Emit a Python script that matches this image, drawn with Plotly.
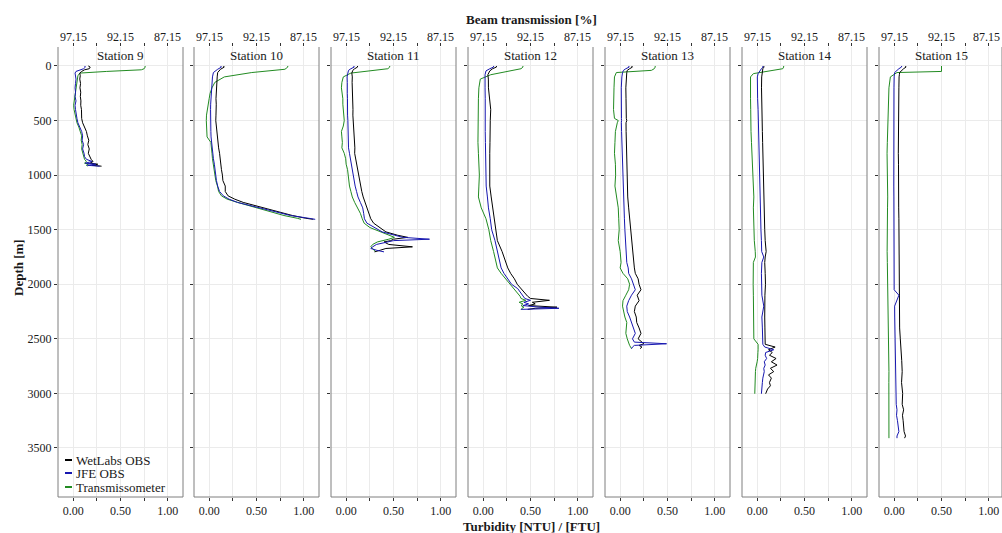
import plotly.graph_objects as go

# ---------------- data ----------------
STATIONS = ["Station 9", "Station 10", "Station 11", "Station 12",
            "Station 13", "Station 14", "Station 15"]

# Station 9
depth_s9 = [0, 10, 25, 35, 50, 65, 90, 120, 160, 200, 240, 280, 320, 360, 400, 440,
            480, 520, 560, 600, 640, 680, 720, 760, 800, 830, 855, 875, 890, 900, 910, 918]
wetlabs_s9 = [0.16, 0.18, 0.17, 0.12, 0.09, 0.07, 0.075, 0.07, 0.078, 0.072, 0.08, 0.076,
              0.082, 0.08, 0.088, 0.085, 0.09, 0.1, 0.12, 0.14, 0.15, 0.165, 0.155, 0.17,
              0.16, 0.175, 0.19, 0.21, 0.18, 0.26, 0.2, 0.3]
jfe_s9 = [0.12, 0.13, 0.11, 0.07, 0.03, 0.02, 0.025, 0.03, 0.025, 0.02, 0.025, 0.02, 0.03,
          0.02, 0.025, 0.03, 0.04, 0.05, 0.07, 0.09, 0.1, 0.095, 0.11, 0.1, 0.115, 0.12,
          0.14, 0.2, 0.13, 0.24, 0.15, 0.28]
trans_s9 = [89.55, 89.55, 89.65, 89.95, 93.65, 96.45, 96.65, 96.70, 96.80, 96.85, 96.95,
            97.00, 97.05, 97.10, 97.05, 96.95, 96.85, 96.75, 96.55, 96.40, 96.25, 96.30,
            96.20, 96.25, 96.15, 96.05, 95.95, 95.75, 95.95, 95.55, 95.75, 95.65]

# Station 10
depth_s10 = [0, 10, 30, 60, 100, 150, 200, 250, 300, 350, 400, 450, 500, 550, 600, 650,
             700, 750, 800, 850, 900, 950, 1000, 1050, 1100, 1150, 1190, 1220, 1250, 1280,
             1310, 1340, 1370, 1395, 1405]
wetlabs_s10 = [0.15, 0.16, 0.12, 0.09, 0.085, 0.08, 0.078, 0.075, 0.072, 0.075, 0.07, 0.072,
               0.07, 0.075, 0.08, 0.085, 0.09, 0.1, 0.11, 0.115, 0.12, 0.13, 0.14, 0.145,
               0.17, 0.17, 0.2, 0.27, 0.36, 0.48, 0.62, 0.75, 0.88, 1.02, 1.1]
jfe_s10 = [0.12, 0.13, 0.09, 0.045, 0.035, 0.03, 0.025, 0.02, 0.018, 0.016, 0.015, 0.014,
           0.015, 0.016, 0.018, 0.02, 0.025, 0.03, 0.04, 0.045, 0.055, 0.06, 0.07, 0.077,
           0.09, 0.11, 0.15, 0.21, 0.3, 0.44, 0.59, 0.73, 0.86, 1.05, 1.12]
trans_s10 = [88.85, 88.85, 89.15, 92.65, 95.55, 96.55, 96.85, 97.05, 97.15, 97.25, 97.35,
             97.43, 97.45, 97.43, 97.40, 97.37, 96.97, 96.95, 96.85, 96.80, 96.70, 96.65,
             96.55, 96.45, 96.27, 96.15, 95.85, 95.25, 94.15, 92.85, 91.65, 90.45, 89.25,
             87.85, 87.45]

# Station 11
depth_s11 = [0, 10, 25, 40, 65, 100, 150, 200, 250, 300, 350, 400, 450, 500, 550, 600, 650,
             700, 750, 800, 850, 900, 950, 1000, 1050, 1100, 1150, 1200, 1250, 1300, 1350,
             1400, 1440, 1480, 1520, 1550, 1570, 1587, 1600, 1612, 1635, 1657, 1672, 1688, 1703]
wetlabs_s11 = [0.12, 0.12, 0.09, 0.07, 0.06, 0.065, 0.063, 0.066, 0.068, 0.066, 0.07, 0.072,
               0.071, 0.075, 0.078, 0.08, 0.083, 0.088, 0.092, 0.09, 0.1, 0.116, 0.12, 0.13,
               0.14, 0.15, 0.165, 0.18, 0.2, 0.225, 0.24, 0.26, 0.29, 0.35, 0.42, 0.54, 0.65,
               0.5, 0.47, 0.40, 0.45, 0.70, 0.42, 0.36, 0.3]
jfe_s11 = [0.08, 0.085, 0.05, 0.025, 0.018, 0.01, 0.012, 0.01, 0.012, 0.014, 0.012, 0.016,
           0.015, 0.018, 0.02, 0.022, 0.02, 0.024, 0.025, 0.035, 0.045, 0.053, 0.06, 0.07,
           0.08, 0.095, 0.11, 0.125, 0.15, 0.175, 0.185, 0.193, 0.22, 0.3, 0.38, 0.51, 0.6,
           0.88, 0.5, 0.44, 0.32, 0.28, 0.26, 0.32, 0.4]
trans_s11 = [92.55, 92.55, 92.75, 94.15, 96.65, 97.45, 97.60, 97.65, 97.55, 97.50, 97.50,
             97.45, 97.40, 97.35, 97.45, 97.65, 97.60, 97.55, 97.60, 97.35, 97.20, 97.15,
             97.00, 96.95, 96.87, 96.80, 96.65, 96.50, 96.25, 95.95, 95.65, 95.45, 95.25,
             94.65, 93.55, 92.65, 92.05, 92.65, 93.35, 93.85, 94.35, 94.55, 94.35, 94.15, 94.05]

# Station 12
depth_s12 = [0, 10, 25, 45, 80, 120, 200, 300, 400, 500, 600, 700, 800, 900, 1000, 1100,
             1200, 1300, 1400, 1500, 1600, 1700, 1800, 1850, 1900, 1950, 2000, 2040, 2080,
             2110, 2130, 2147, 2165, 2180, 2195, 2210, 2220, 2230]
wetlabs_s12 = [0.14, 0.14, 0.1, 0.07, 0.05, 0.055, 0.056, 0.065, 0.08, 0.075, 0.07, 0.072,
               0.07, 0.068, 0.067, 0.07, 0.085, 0.1, 0.115, 0.13, 0.15, 0.2, 0.24, 0.26, 0.29,
               0.33, 0.36, 0.4, 0.43, 0.47, 0.5, 0.7, 0.52, 0.55, 0.48, 0.78, 0.55, 0.47]
jfe_s12 = [0.11, 0.11, 0.07, 0.03, 0.02, 0.022, 0.02, 0.022, 0.02, 0.021, 0.022, 0.024,
           0.025, 0.026, 0.028, 0.032, 0.045, 0.056, 0.075, 0.09, 0.125, 0.15, 0.175, 0.19,
           0.22, 0.26, 0.3, 0.365, 0.4, 0.42, 0.44, 0.5, 0.43, 0.48, 0.42, 0.6, 0.8, 0.4]
trans_s12 = [92.95, 92.95, 93.15, 94.35, 96.35, 97.45, 97.60, 97.65, 97.67, 97.70, 97.71,
             97.70, 97.65, 97.60, 97.55, 97.60, 97.65, 97.35, 96.85, 96.55, 96.35, 96.05,
             95.75, 95.65, 95.25, 94.75, 94.25, 93.85, 93.45, 93.25, 93.15, 92.65, 93.35,
             92.95, 93.15, 92.85, 93.05, 93.15]

# Station 13
depth_s13 = [0, 10, 25, 40, 60, 100, 200, 300, 400, 480, 500, 520, 600, 700, 800, 900, 1000,
             1100, 1200, 1300, 1400, 1500, 1600, 1700, 1800, 1850, 1900, 1950, 2000, 2050,
             2100, 2150, 2200, 2250, 2300, 2350, 2400, 2450, 2500, 2530, 2545, 2560, 2575, 2590]
wetlabs_s13 = [0.12, 0.13, 0.1, 0.075, 0.07, 0.065, 0.06, 0.062, 0.06, 0.065, 0.07, 0.062,
               0.063, 0.065, 0.07, 0.068, 0.072, 0.078, 0.08, 0.09, 0.1, 0.11, 0.118, 0.13,
               0.14, 0.15, 0.16, 0.19, 0.2, 0.22, 0.18, 0.2, 0.16, 0.15, 0.17, 0.175, 0.2,
               0.22, 0.19, 0.23, 0.25, 0.2, 0.23, 0.21]
jfe_s13 = [0.09, 0.095, 0.06, 0.035, 0.025, 0.018, 0.012, 0.01, 0.012, 0.014, 0.015, 0.013,
           0.015, 0.018, 0.02, 0.022, 0.025, 0.03, 0.035, 0.04, 0.045, 0.05, 0.055, 0.06,
           0.07, 0.085, 0.09, 0.12, 0.14, 0.16, 0.12, 0.09, 0.07, 0.075, 0.1, 0.12, 0.14,
           0.16, 0.13, 0.15, 0.49, 0.15, 0.13, 0.12]
trans_s13 = [93.45, 93.45, 93.55, 93.85, 97.55, 97.75, 97.80, 97.85, 97.85, 97.75, 97.35,
             97.45, 97.65, 97.70, 97.75, 97.65, 97.63, 97.70, 97.55, 97.35, 97.30, 97.25,
             97.35, 97.15, 97.05, 97.15, 96.85, 96.35, 96.15, 96.25, 96.55, 96.85, 96.90,
             96.80, 96.65, 96.45, 96.50, 96.55, 96.40, 96.30, 96.25, 96.15, 96.05, 95.95]

# Station 14
depth_s14 = [0, 10, 25, 45, 70, 100, 200, 300, 400, 500, 600, 700, 800, 900, 1000, 1100,
             1200, 1300, 1400, 1500, 1600, 1700, 1750, 1800, 1900, 2000, 2100, 2200, 2300,
             2400, 2500, 2550, 2575, 2600, 2625, 2650, 2680, 2710, 2740, 2770, 2800, 2830,
             2860, 2900, 2930, 2960, 3003]
wetlabs_s14 = [0.07, 0.072, 0.06, 0.055, 0.05, 0.048, 0.046, 0.05, 0.052, 0.053, 0.055,
               0.058, 0.06, 0.062, 0.065, 0.07, 0.068, 0.072, 0.078, 0.08, 0.085, 0.095,
               0.085, 0.08, 0.085, 0.088, 0.082, 0.085, 0.08, 0.082, 0.08, 0.085, 0.19, 0.12,
               0.16, 0.13, 0.2, 0.15, 0.21, 0.14, 0.175, 0.12, 0.15, 0.13, 0.14, 0.11, 0.09]
jfe_s14 = [0.06, 0.062, 0.045, 0.03, 0.01, 0.002, 0.0, 0.005, 0.01, 0.012, 0.015, 0.018,
           0.02, 0.022, 0.025, 0.028, 0.03, 0.032, 0.035, 0.04, 0.045, 0.048, 0.07, 0.05,
           0.045, 0.048, 0.05, 0.07, 0.05, 0.055, 0.055, 0.06, 0.08, 0.175, 0.09, 0.085, 0.1,
           0.075, 0.085, 0.07, 0.075, 0.065, 0.06, 0.055, 0.05, 0.05, 0.045]
trans_s14 = [94.35, 94.35, 94.45, 95.65, 97.55, 97.85, 97.87, 97.85, 97.83, 97.85, 97.80,
             97.75, 97.70, 97.65, 97.60, 97.55, 97.50, 97.55, 97.53, 97.50, 97.45, 97.35,
             97.33, 97.55, 97.60, 97.57, 97.55, 97.53, 97.55, 97.53, 97.50, 97.05, 97.03,
             97.05, 97.07, 97.05, 97.10, 97.15, 97.25, 97.30, 97.33, 97.35, 97.37, 97.35,
             97.40, 97.40, 97.40]

# Station 15
depth_s15 = [0, 10, 25, 50, 60, 80, 100, 200, 300, 400, 500, 600, 700, 800, 900, 1000, 1100,
             1200, 1300, 1400, 1500, 1600, 1700, 1800, 1900, 2000, 2050, 2100, 2200, 2300,
             2400, 2500, 2600, 2700, 2800, 2900, 3000, 3100, 3150, 3200, 3250, 3300, 3350,
             3390, 3410]
wetlabs_s15 = [0.12, 0.125, 0.1, 0.065, 0.058, 0.055, 0.052, 0.05, 0.048, 0.046, 0.045,
               0.044, 0.045, 0.044, 0.046, 0.045, 0.048, 0.047, 0.048, 0.05, 0.05, 0.052,
               0.05, 0.051, 0.05, 0.052, 0.05, 0.052, 0.053, 0.055, 0.058, 0.065, 0.075, 0.08,
               0.085, 0.078, 0.09, 0.085, 0.1, 0.088, 0.095, 0.1, 0.105, 0.12, 0.11]
jfe_s15 = [0.08, 0.077, 0.05, 0.01, 0.005, 0.002, 0.0, -0.002, -0.003, -0.005, -0.006,
           -0.007, -0.006, -0.005, -0.005, -0.004, -0.004, -0.003, -0.002, -0.002, -0.001,
           0.0, 0.0, 0.001, 0.0, 0.002, 0.0, 0.05, 0.005, 0.006, 0.008, 0.01, 0.012, 0.015,
           0.014, 0.018, 0.02, 0.022, 0.03, 0.025, 0.035, 0.04, 0.05, 0.03, 0.03]
trans_s15 = [92.15, 92.15, 92.15, 92.15, 96.85, 97.15, 97.55, 97.70, 97.75, 97.77, 97.78,
             97.85, 97.87, 97.90, 97.87, 97.83, 97.80, 97.83, 97.85, 97.87, 97.85, 97.87,
             97.89, 97.87, 97.85, 97.85, 97.83, 97.80, 97.78, 97.75, 97.75, 97.73, 97.73,
             97.71, 97.70, 97.71, 97.70, 97.70, 97.69, 97.70, 97.69, 97.70, 97.69, 97.70, 97.70]

DEPTHS = [depth_s9, depth_s10, depth_s11, depth_s12, depth_s13, depth_s14, depth_s15]
WETLABS = [wetlabs_s9, wetlabs_s10, wetlabs_s11, wetlabs_s12, wetlabs_s13, wetlabs_s14, wetlabs_s15]
JFE = [jfe_s9, jfe_s10, jfe_s11, jfe_s12, jfe_s13, jfe_s14, jfe_s15]
TRANS = [trans_s9, trans_s10, trans_s11, trans_s12, trans_s13, trans_s14, trans_s15]

TURB_TICKS = [0.0, 0.25, 0.5, 0.75, 1.0]
TURB_TICK_TEXT = ["0.00", "", "0.50", "", "1.00"]
TRANS_TICKS = [97.15, 94.65, 92.15, 89.65, 87.15]
TRANS_TICK_TEXT = ["97.15", "", "92.15", "", "87.15"]
DEPTH_TICKS = [0, 500, 1000, 1500, 2000, 2500, 3000, 3500]
SERIES_NAMES = ["WetLabs OBS", "JFE OBS", "Transmissometer"]

# ---------------- style / layout ----------------
W, H = 1002, 533
FONT = "Liberation Serif, Times New Roman, serif"
BLACK, BLUE, GREEN = "#000000", "#1717B0", "#228B22"
GRID = "#EBEBEB"
BORDER = "#7F7F7F"
TXT = "#1A1A1A"

PANEL_LEFT = [58, 194, 331, 468, 605, 742, 879]
PANEL_W = 125
PX_TOP, PX_BOT = 47, 497
TOP_LABEL_Y = 37
TURB_MIN, TURB_MAX = -0.16, 1.16
T0 = 97.15          # transmission at zero turbidity on the top scale
T_PER_TURB = 10.0   # % per turbidity unit on the top scale
DEPTH_RANGE = [3949, -174]

ydom = [1 - PX_BOT / H, 1 - PX_TOP / H]

fig = go.Figure()
layout = {}
shapes = []
annotations = []

for i in range(7):
    n = i + 1
    left = PANEL_LEFT[i]
    right = min(left + PANEL_W, W)
    tmax = TURB_MIN + (TURB_MAX - TURB_MIN) * (right - left) / PANEL_W
    xb = "x" if n == 1 else f"x{n}"          # transmission axis (top, base)
    xo = f"x{n + 7}"                         # turbidity axis (bottom, overlay)
    yy = "y" if n == 1 else f"y{n}"
    xb_key = "xaxis" if n == 1 else f"xaxis{n}"
    yy_key = "yaxis" if n == 1 else f"yaxis{n}"

    tick_common = dict(ticks="outside", ticklen=3, tickwidth=1, tickcolor="#333333",
                       tickfont=dict(family=FONT, size=12, color=TXT), zeroline=False,
                       showline=False, fixedrange=True)

    layout[xb_key] = dict(domain=[left / W, right / W], anchor=yy, side="top",
                          range=[T0 - T_PER_TURB * TURB_MIN, T0 - T_PER_TURB * tmax],
                          tickvals=TRANS_TICKS, showticklabels=False,
                          showgrid=True, gridcolor=GRID, gridwidth=1, **tick_common)
    layout[f"xaxis{n + 7}"] = dict(overlaying=xb, anchor=yy, side="bottom",
                                   range=[TURB_MIN, tmax],
                                   tickvals=TURB_TICKS, ticktext=TURB_TICK_TEXT,
                                   showgrid=False, **tick_common)
    layout[yy_key] = dict(domain=ydom, anchor=xb, range=DEPTH_RANGE,
                          tickvals=DEPTH_TICKS, showticklabels=(n == 1),
                          showgrid=True, gridcolor=GRID, gridwidth=1, **tick_common)

    # top (transmission) tick labels, placed on the transmission axis scale;
    # a label running past the right edge of the page is right-aligned to the edge
    for tv, tt in zip(TRANS_TICKS, TRANS_TICK_TEXT):
        if not tt:
            continue
        tick_px = left + (T0 - T_PER_TURB * TURB_MIN - tv) / (T_PER_TURB * (TURB_MAX - TURB_MIN)) * PANEL_W
        if tick_px + 14 > W:
            annotations.append(dict(text=tt, xref="paper", x=1.0, yref="paper",
                                    y=1 - TOP_LABEL_Y / H, xanchor="right",
                                    yanchor="middle", showarrow=False,
                                    font=dict(family=FONT, size=12, color=TXT)))
        else:
            annotations.append(dict(text=tt, xref=xb, x=tv, yref="paper",
                                    y=1 - TOP_LABEL_Y / H, xanchor="center",
                                    yanchor="middle", showarrow=False,
                                    font=dict(family=FONT, size=12, color=TXT)))

    d = DEPTHS[i]
    fig.add_trace(go.Scatter(x=TRANS[i], y=d, xaxis=xb, yaxis=yy, mode="lines",
                             line=dict(color=GREEN, width=1), name=SERIES_NAMES[2],
                             showlegend=False))
    fig.add_trace(go.Scatter(x=WETLABS[i], y=d, xaxis=xo, yaxis=yy, mode="lines",
                             line=dict(color=BLACK, width=1), name=SERIES_NAMES[0],
                             showlegend=False))
    fig.add_trace(go.Scatter(x=JFE[i], y=d, xaxis=xo, yaxis=yy, mode="lines",
                             line=dict(color=BLUE, width=1), name=SERIES_NAMES[1],
                             showlegend=False))

    # panel borders: left, right, bottom
    for xs in (left, right):
        shapes.append(dict(type="line", xref="paper", yref="paper",
                           x0=xs / W, x1=xs / W, y0=ydom[0], y1=ydom[1],
                           line=dict(color=BORDER, width=1)))
    shapes.append(dict(type="line", xref="paper", yref="paper",
                       x0=left / W, x1=right / W, y0=ydom[0], y1=ydom[0],
                       line=dict(color=BORDER, width=1)))

    annotations.append(dict(text=STATIONS[i], xref="paper", yref="paper",
                            x=(left + PANEL_W / 2) / W, y=1 - 55 / H,
                            xanchor="center", yanchor="middle", showarrow=False,
                            font=dict(family=FONT, size=13, color=TXT)))

# axis titles
annotations.append(dict(text="<b>Beam transmission [%]</b>", xref="paper", yref="paper",
                        x=531 / W, y=1 - 20 / H, xanchor="center", yanchor="middle",
                        showarrow=False, font=dict(family=FONT, size=13, color=TXT)))
annotations.append(dict(text="<b>Turbidity [NTU] / [FTU]</b>", xref="paper", yref="paper",
                        x=531 / W, y=1 - 526 / H, xanchor="center", yanchor="middle",
                        showarrow=False, font=dict(family=FONT, size=13, color=TXT)))
annotations.append(dict(text="<b>Depth [m]</b>", xref="paper", yref="paper",
                        x=18 / W, y=1 - 268 / H, xanchor="center", yanchor="middle",
                        textangle=-90, showarrow=False,
                        font=dict(family=FONT, size=13, color=TXT)))

# legend (inside first panel)
legend_rows = [(SERIES_NAMES[0], BLACK, 460), (SERIES_NAMES[1], BLUE, 473),
               (SERIES_NAMES[2], GREEN, 487)]
for name, col, py in legend_rows:
    shapes.append(dict(type="line", xref="paper", yref="paper",
                       x0=65 / W, x1=72 / W, y0=1 - py / H, y1=1 - py / H,
                       line=dict(color=col, width=2)))
    annotations.append(dict(text=name, xref="paper", yref="paper",
                            x=74 / W, y=1 - py / H, xanchor="left", yanchor="middle",
                            showarrow=False, font=dict(family=FONT, size=13, color=TXT)))

fig.update_layout(width=W, height=H, margin=dict(l=0, r=0, t=0, b=0),
                  paper_bgcolor="white", plot_bgcolor="white", showlegend=False,
                  shapes=shapes, annotations=annotations, **layout)

fig.write_html("out.html", config={"displayModeBar": False},
               post_script="document.body.style.margin='0px';document.body.style.overflow='hidden';")
